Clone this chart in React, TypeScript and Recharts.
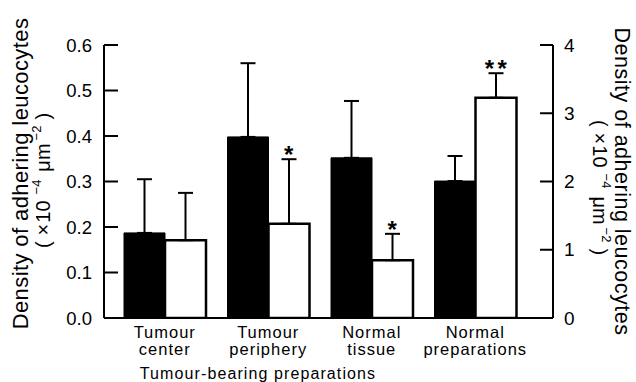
import React from 'react';
import { BarChart, Bar, XAxis, YAxis, ErrorBar, LabelList } from 'recharts';

const categories = ['Tumour center', 'Tumour periphery', 'Normal tissue', 'Normal preparations'];
const blackValues = [0.187, 0.398, 0.352, 0.301];
const blackErrors = [0.118, 0.162, 0.125, 0.055];
const whiteValues = [0.171, 0.207, 0.127, 0.484];
const whiteErrors = [0.104, 0.142, 0.058, 0.054];
const significance = ['', '*', '*', '**'];
const leftTicks = [0, 0.1, 0.2, 0.3, 0.4, 0.5, 0.6];
const rightTicks = [0, 1, 2, 3, 4];
const titleText = 'Density of adhering leucocytes';
const groupLabel = 'Tumour-bearing preparations';

const data = categories.map((name, i) => ({
  name,
  black: blackValues[i],
  blackErr: [0, blackErrors[i]],
  white: whiteValues[i],
  whiteErr: [0, whiteErrors[i]],
  sig: significance[i],
}));

const FONT = '"Liberation Sans", Arial, Helvetica, sans-serif';

const unitSpans = () => {
  const fs = 20;
  const sup = 13;
  const shift = 9;
  return [
    <tspan key="a" fontSize={fs}>(</tspan>,
    <tspan key="b" fontSize={fs} dx={6}>×</tspan>,
    <tspan key="c" fontSize={fs} dx={1}>10</tspan>,
    <tspan key="d" fontSize={sup} dx={6} dy={-shift}>−4</tspan>,
    <tspan key="e" fontSize={fs} dx={8} dy={shift}>μm</tspan>,
    <tspan key="f" fontSize={sup} dx={3} dy={-shift}>−2</tspan>,
    <tspan key="g" fontSize={fs} dx={6} dy={shift}>)</tspan>,
  ];
};

const LeftTitle = (props: any) => {
  const vb = props.viewBox || {};
  const cy = vb.y + vb.height / 2 - 8;
  const x0 = vb.x;
  return (
    <g>
      <text transform={`translate(${x0 + 28}, ${cy}) rotate(-90)`} textAnchor="middle" fontSize={22} fontFamily={FONT} fill="#000" letterSpacing={0.4}>
        {titleText}
      </text>
      <text transform={`translate(${x0 + 50}, ${cy + 7}) rotate(-90)`} textAnchor="middle" fontFamily={FONT} fill="#000">
        {unitSpans()}
      </text>
    </g>
  );
};

const RightTitle = (props: any) => {
  const vb = props.viewBox || {};
  const cy = vb.y + vb.height / 2;
  return (
    <g>
      <text transform={`translate(615, ${cy}) rotate(90)`} textAnchor="middle" fontSize={21.5} fontFamily={FONT} fill="#000" letterSpacing={0.5}>
        {titleText}
      </text>
      <text transform={`translate(593, ${cy + 6}) rotate(90)`} textAnchor="middle" fontFamily={FONT} fill="#000">
        {unitSpans()}
      </text>
    </g>
  );
};

const BottomTitle = (props: any) => {
  const vb = props.viewBox || {};
  return (
    <text x={vb.x + 154} y={vb.y + 61} textAnchor="middle" fontSize={16} fontFamily={FONT} fill="#000" letterSpacing={1.1}>
      {groupLabel}
    </text>
  );
};

const XTick = (props: any) => {
  const { x, y, payload } = props;
  const words = String(payload.value).split(' ');
  return (
    <g>
      <text x={x} y={y + 20} textAnchor="middle" fontSize={16.5} fontFamily={FONT} fill="#000" letterSpacing={1}>
        {words[0]}
      </text>
      <text x={x} y={y + 37} textAnchor="middle" fontSize={16.5} fontFamily={FONT} fill="#000" letterSpacing={1}>
        {words.slice(1).join(' ')}
      </text>
    </g>
  );
};

const SigLabel = (props: any) => {
  const vb = props.viewBox || props;
  const x = vb.x ?? props.x;
  const y = vb.y ?? props.y;
  const width = vb.width ?? props.width;
  const height = Math.abs(vb.height ?? props.height);
  const { value, index } = props;
  if (!value) return null;
  const errPx = (height * whiteErrors[index]) / whiteValues[index];
  return (
    <text x={x + width / 2 + 1.5} y={y - errPx + 4} textAnchor="middle" fontSize={24} fontWeight="bold" fontFamily={FONT} fill="#000" letterSpacing={3.5}>
      {value}
    </text>
  );
};

export default function App() {
  return (
    <div style={{ position: 'absolute', left: 0, top: 0, width: 636, height: 382, background: '#fff' }}>
      <BarChart
        width={636}
        height={382}
        data={data}
        margin={{ top: 45, right: 0, bottom: 0, left: 0 }}
        barGap={0}
        barCategoryGap={0}
      >
        <XAxis
          dataKey="name"
          height={64}
          padding={{ left: 9, right: 26 }}
          axisLine={{ stroke: '#000', strokeWidth: 2 }}
          tickLine={false}
          tickSize={0}
          tickMargin={0}
          interval={0}
          tick={<XTick />}
          label={BottomTitle}
        />
        <YAxis
          yAxisId="left"
          width={104}
          domain={[0, 0.6]}
          ticks={leftTicks}
          allowDataOverflow
          axisLine={{ stroke: '#000', strokeWidth: 2 }}
          tickLine={{ stroke: '#000', strokeWidth: 2 }}
          tickSize={-14}
          tickMargin={26}
          tickFormatter={(v: number) => v.toFixed(1)}
          tick={{ fill: '#000', fontSize: 18.5, fontFamily: FONT }}
          label={LeftTitle}
        />
        <YAxis
          yAxisId="right"
          orientation="right"
          width={83}
          domain={[0, 4]}
          ticks={rightTicks}
          allowDataOverflow
          axisLine={{ stroke: '#000', strokeWidth: 2 }}
          tickLine={{ stroke: '#000', strokeWidth: 2 }}
          tickSize={-13}
          tickMargin={24}
          tick={{ fill: '#000', fontSize: 19, fontFamily: FONT }}
          label={RightTitle}
        />
        <Bar yAxisId="left" dataKey="black" barSize={41} fill="#000" stroke="#000" strokeWidth={1} isAnimationActive={false}>
          <ErrorBar dataKey="blackErr" direction="y" width={7.5} stroke="#000" strokeWidth={2} />
        </Bar>
        <Bar yAxisId="left" dataKey="white" barSize={41} fill="#fff" stroke="#000" strokeWidth={2.5} isAnimationActive={false}>
          <ErrorBar dataKey="whiteErr" direction="y" width={7.5} stroke="#000" strokeWidth={2} />
          <LabelList dataKey="sig" content={SigLabel} />
        </Bar>
      </BarChart>
    </div>
  );
}
